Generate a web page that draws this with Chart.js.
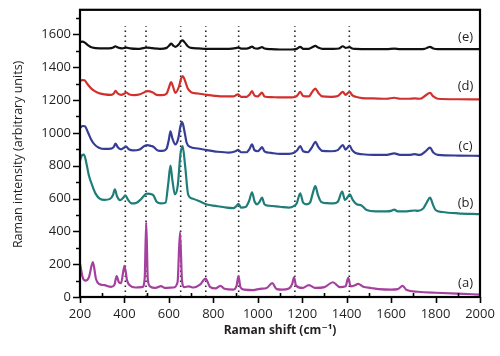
<!DOCTYPE html>
<html>
<head>
<meta charset="utf-8">
<script src="https://cdn.jsdelivr.net/npm/chart.js@4.4.1/dist/chart.umd.min.js"></script>
<style>
  html, body { margin: 0; padding: 0; background: #fff; }
  #wrap { width: 500px; height: 356px; position: relative; }
</style>
</head>
<body>
<div id="wrap"><canvas id="c" width="500" height="356"></canvas></div>
<script>
// ---- Data ----
const seriesNames = ["(a)", "(b)", "(c)", "(d)", "(e)"];
const seriesColors = ["#a5409f", "#1f7d79", "#363d95", "#d0312f", "#111111"];

const specA = [[200,205],[212,120],[225,100],[240,120],[258,212],[272,110],[285,80],[310,72],[340,62],[355,75],[365,128],[375,90],[385,85],[400,190],[412,100],[425,70],[450,58],[480,60],[491,110],[498,455],[505,110],[515,65],[540,55],[565,66],[580,56],[620,58],[639,90],[650,395],[659,100],[668,60],[690,65],[710,58],[740,75],[765,112],[785,62],[810,52],[832,68],[850,50],[890,45],[905,70],[913,128],[922,60],[940,45],[980,42],[1010,50],[1040,55],[1065,84],[1085,48],[1110,45],[1140,52],[1155,80],[1163,120],[1172,70],[1200,55],[1230,72],[1260,55],[1300,60],[1338,90],[1370,60],[1395,65],[1407,116],[1418,65],[1435,70],[1452,80],[1475,62],[1510,55],[1545,48],[1600,45],[1630,48],[1652,68],[1670,42],[1720,32],[1800,26],[1900,20],[2000,15]];

const specB = [[200,830],[208,862],[218,868],[228,820],[240,740],[255,680],[270,630],[290,598],[310,592],[335,598],[348,620],[357,656],[367,612],[380,590],[395,605],[404,620],[415,595],[432,570],[455,575],[470,590],[485,612],[500,630],[515,628],[530,620],[545,580],[565,570],[585,575],[597,690],[607,800],[615,720],[627,625],[640,680],[652,870],[662,920],[673,800],[687,622],[705,600],[735,585],[771,564],[810,555],[860,545],[890,542],[905,555],[913,568],[925,545],[945,548],[961,585],[974,638],[986,580],[997,565],[1008,580],[1019,605],[1030,565],[1050,556],[1100,550],[1140,545],[1160,552],[1175,570],[1191,632],[1204,575],[1220,565],[1235,575],[1247,630],[1259,675],[1271,620],[1285,580],[1310,572],[1340,570],[1360,580],[1380,642],[1392,592],[1400,600],[1414,625],[1428,590],[1445,565],[1467,558],[1490,530],[1530,522],[1580,522],[1600,525],[1614,532],[1630,522],[1670,522],[1705,527],[1720,525],[1745,540],[1762,580],[1775,605],[1789,560],[1800,530],[1830,518],[1900,510],[2000,505]];

const specC = [[200,1030],[212,1042],[222,1040],[235,1005],[250,960],[265,930],[285,910],[310,902],[340,904],[352,915],[360,935],[370,912],[385,900],[398,910],[408,916],[420,900],[440,893],[465,897],[490,920],[503,926],[520,920],[530,916],[550,893],[570,890],[590,905],[600,960],[607,1010],[615,970],[629,930],[642,965],[652,1040],[660,1065],[670,1010],[680,940],[695,915],[730,905],[770,895],[820,885],[870,880],[900,888],[911,896],[925,882],[950,882],[962,900],[974,930],[985,895],[1000,888],[1010,900],[1019,914],[1030,888],[1060,878],[1100,872],[1140,872],[1165,880],[1178,895],[1191,920],[1204,888],[1225,882],[1245,915],[1259,946],[1272,915],[1290,890],[1330,888],[1360,895],[1383,926],[1395,898],[1413,922],[1425,895],[1440,877],[1470,870],[1520,866],[1580,866],[1614,875],[1640,866],[1680,866],[1705,870],[1730,866],[1755,888],[1775,910],[1790,880],[1810,866],[1900,862],[2000,860]];

const specD = [[200,1318],[210,1322],[220,1320],[235,1295],[255,1265],[280,1245],[310,1235],[340,1232],[352,1240],[360,1256],[370,1240],[385,1232],[400,1240],[408,1246],[420,1236],[445,1230],[470,1235],[490,1248],[503,1254],[528,1246],[545,1232],[570,1230],[590,1240],[600,1275],[610,1310],[618,1285],[629,1244],[645,1280],[655,1330],[663,1346],[672,1320],[685,1270],[700,1248],[731,1240],[770,1232],[806,1226],[850,1222],[890,1222],[911,1235],[925,1220],[950,1220],[962,1232],[974,1254],[985,1228],[1000,1222],[1010,1235],[1019,1245],[1030,1222],[1060,1218],[1100,1216],[1150,1216],[1170,1220],[1180,1232],[1191,1250],[1204,1225],[1230,1222],[1245,1250],[1259,1270],[1272,1245],[1290,1222],[1330,1220],[1360,1225],[1383,1250],[1395,1232],[1413,1250],[1425,1230],[1440,1220],[1470,1212],[1520,1210],[1580,1208],[1614,1214],[1640,1208],[1680,1208],[1705,1210],[1730,1208],[1755,1228],[1775,1244],[1790,1222],[1810,1208],[1900,1205],[2000,1204]];

const specE = [[200,1553],[212,1556],[222,1550],[235,1535],[255,1520],[290,1515],[330,1515],[350,1520],[359,1528],[370,1520],[390,1515],[408,1520],[425,1515],[460,1512],[490,1518],[503,1520],[525,1516],[560,1512],[590,1518],[603,1535],[610,1544],[620,1532],[629,1524],[645,1540],[655,1560],[662,1564],[672,1550],[685,1528],[700,1518],[731,1515],[770,1512],[806,1512],[870,1512],[900,1516],[911,1520],[925,1514],[950,1514],[962,1518],[974,1526],[985,1516],[1000,1514],[1010,1518],[1019,1522],[1030,1514],[1060,1510],[1100,1508],[1150,1508],[1175,1512],[1191,1524],[1205,1512],[1230,1512],[1245,1522],[1259,1530],[1272,1520],[1290,1512],[1340,1512],[1365,1514],[1383,1528],[1395,1518],[1413,1522],[1425,1514],[1440,1512],[1500,1510],[1580,1510],[1614,1513],[1640,1510],[1700,1510],[1750,1512],[1765,1520],[1775,1524],[1790,1514],[1810,1510],[1900,1510],[2000,1510]];

const spectra = [specA, specB, specC, specD, specE];

// dotted reference lines (Raman shift positions) and their vertical extent
const markerShifts = [404, 497, 653, 766, 914, 1167, 1412];
const markerRange = [0, 1650];

// series label anchor points (x in cm-1, y in intensity units)
const labelX = [1935, 1935, 1935, 1935, 1935];
const labelY = [86, 574, 920, 1284, 1580];

const xTickLabels = [200, 400, 600, 800, 1000, 1200, 1400, 1600, 1800, 2000];
const yTickLabels = [0, 200, 400, 600, 800, 1000, 1200, 1400, 1600];

const xTitle = "Raman shift (cm\u207B\u00B9)";
const yTitle = "Raman intensity (arbitrary units)";

// ---- Build datasets ----
const datasets = [];
markerShifts.forEach(s => {
  datasets.push({
    data: [{x: s, y: markerRange[0]}, {x: s, y: markerRange[1]}],
    borderColor: "#222",
    borderWidth: 1.6,
    borderDash: [1.6, 3.4],
    pointRadius: 0,
    tension: 0,
    order: 10
  });
});
spectra.forEach((sp, i) => {
  datasets.push({
    label: seriesNames[i],
    data: sp.map(p => ({x: p[0], y: p[1]})),
    borderColor: seriesColors[i],
    borderWidth: 2.2,
    pointRadius: 0,
    cubicInterpolationMode: "monotone",
    tension: 0.4,
    order: 1
  });
});

const FONT = "'Open Sans', 'DejaVu Sans', sans-serif";
const TXT = "#231f20";

const decor = {
  id: "decor",
  afterDatasetsDraw(chart) {
    const {ctx, chartArea: a, scales: {x, y}} = chart;
    ctx.save();
    // frame
    ctx.strokeStyle = "#000";
    ctx.lineWidth = 2.2;
    ctx.strokeRect(a.left, a.top, a.right - a.left, a.bottom - a.top);
    // ticks
    ctx.lineWidth = 1.6;
    ctx.beginPath();
    for (let v = 0; v <= 1700; v += 100) {
      const py = Math.round(y.getPixelForValue(v)) + 0.5;
      const len = (v % 200 === 0) ? 7 : 4;
      ctx.moveTo(a.left - len, py); ctx.lineTo(a.left, py);
    }
    for (let v = 200; v <= 2000; v += 100) {
      const px = Math.round(x.getPixelForValue(v)) + 0.5;
      if (v % 200 === 0) { ctx.moveTo(px, a.bottom); ctx.lineTo(px, a.bottom + 6); }
      else { ctx.moveTo(px, a.bottom); ctx.lineTo(px, a.bottom - 4); }
    }
    ctx.stroke();
    // series labels
    ctx.fillStyle = TXT;
    ctx.font = "13px " + FONT;
    ctx.textAlign = "center";
    ctx.textBaseline = "middle";
    seriesNames.forEach((n, i) => {
      ctx.fillText(n, x.getPixelForValue(labelX[i]), y.getPixelForValue(labelY[i]));
    });
    // axis titles
    ctx.font = "bold 12px " + FONT;
    ctx.fillText(xTitle, (a.left + a.right) / 2, 331);
    ctx.save();
    ctx.translate(18, (a.top + a.bottom) / 2 + 1);
    ctx.rotate(-Math.PI / 2);
    ctx.font = "12.5px " + FONT;
    ctx.fillText(yTitle, 0, 0);
    ctx.restore();
    ctx.restore();
  }
};

new Chart(document.getElementById("c"), {
  type: "line",
  data: { datasets },
  options: {
    responsive: false,
    animation: false,
    layout: { padding: { top: 4, right: 20, left: 0, bottom: 0 } },
    plugins: { legend: { display: false }, tooltip: { enabled: false } },
    scales: {
      x: {
        type: "linear",
        min: 200, max: 2000,
        afterFit(s) { s.height = 59; },
        border: { display: false },
        grid: { drawOnChartArea: false, drawTicks: true, tickLength: 6, color: "transparent" },
        ticks: {
          stepSize: 200,
          padding: 3,
          color: TXT,
          font: { family: FONT, size: 13 },
          maxRotation: 0,
          autoSkip: false,
          callback: v => xTickLabels.includes(v) ? String(v) : ""
        }
      },
      y: {
        type: "linear",
        min: 0, max: 1750,
        afterFit(s) { s.width = 80; },
        border: { display: false },
        grid: { drawOnChartArea: false, drawTicks: true, tickLength: 7, color: "transparent" },
        ticks: {
          stepSize: 200,
          padding: 2,
          color: TXT,
          font: { family: FONT, size: 13 },
          autoSkip: false,
          callback: v => yTickLabels.includes(v) ? String(v) : ""
        }
      }
    }
  },
  plugins: [decor]
});
</script>
</body>
</html>
